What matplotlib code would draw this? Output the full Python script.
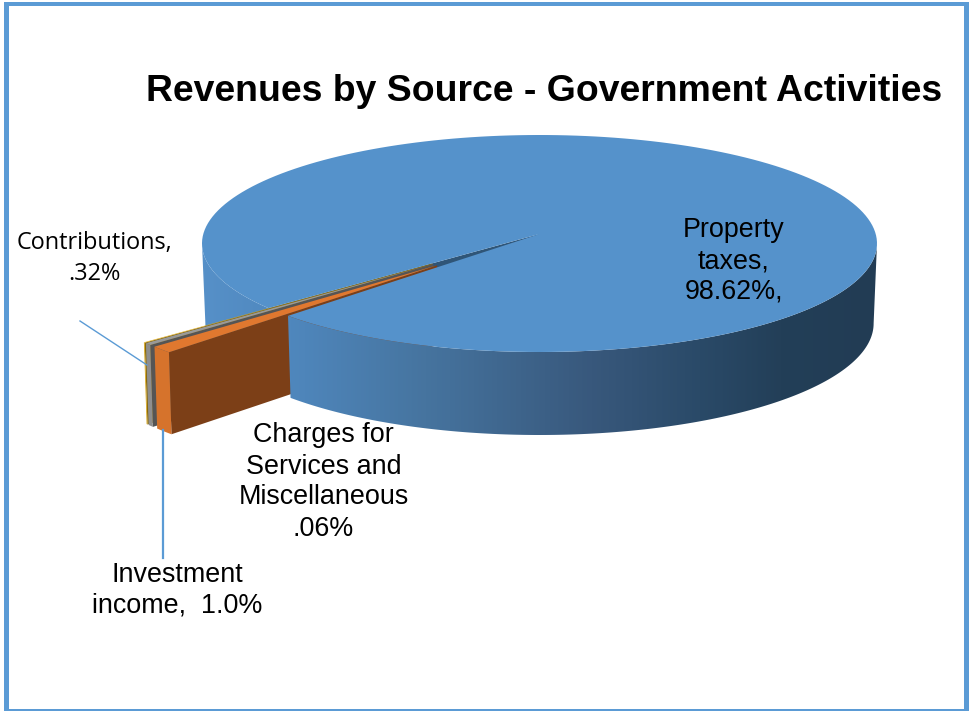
import numpy as np
import matplotlib
matplotlib.use("Agg")
import matplotlib.pyplot as plt
from matplotlib.colors import LinearSegmentedColormap
from matplotlib.patches import Polygon, Rectangle

sources = ["Property taxes", "Investment income", "Contributions", "Charges for Services"]
shares = [98.62, 1.0, 0.32, 0.06]
top_colors = ["#5592cb", "#e0782f", "#999999", "#e3ab12"]
wall_colors = [None, "#d6732c", "#8e8e8e", "#d49f10"]
cut_colors = ["#2f5577", "#7c3f17", "#555555", "#8a6a0a"]

START_ANGLE = 139.5  # pie is drawn clockwise from here
EXPLODE = 0.46
TIP_SHIFT = 0.86  # the tip of an exploded slice moves a bit less than its rim
TILT = -0.0876  # moves the pie centre up, like a perspective view
WIDEST = 5.0  # angle where the pie looks widest on screen


def project(theta, radius=1.0, drop=False):
    """Pie coordinates to pixels through a perspective map"""
    theta = np.radians(theta)
    u = radius * np.cos(theta)
    v = radius * np.sin(theta)
    w = 1 + TILT * v
    u2 = u * np.sqrt(1 - TILT ** 2) / w
    v2 = (v + TILT) / w
    if drop:
        x = 539.5 + 337.5 * 0.99 * u2
        y = 243.5 + 108.5 * v2 + 80 + 3 * v2
    else:
        x = 539.5 + 337.5 * u2
        y = 243.5 + 108.5 * v2
    return np.column_stack([x, y])


def slice_faces(a0, a1):
    arc = np.linspace(a0, a1, 200)
    rim = project(arc)
    rim_low = project(arc, drop=True)
    top = np.vstack([project(a0, 0.0), rim])
    wall = np.vstack([rim, rim_low[::-1]])
    return top, wall, rim, rim_low


spans = np.array(shares) / sum(shares) * 360
ends = START_ANGLE + np.cumsum(spans)
starts = ends - spans

fig = plt.figure(figsize=(9.69, 7.11), dpi=100)
ax = fig.add_axes([0, 0, 1, 1])
ax.set_xlim(0, 969)
ax.set_ylim(711, 0)
ax.axis("off")

wall_cmap = LinearSegmentedColormap.from_list("wall", [
    (0.0, "#5690c8"), (0.13, "#4f87bd"), (0.33, "#46749f"),
    (0.58, "#38587c"), (0.74, "#2a4a68"), (0.86, "#233f58"), (1.0, "#223c54")])
ramp = np.linspace(0, 1, 400).reshape(1, -1)


def gradient_wall(points, zorder):
    patch = Polygon(points, closed=True, fc="none", ec="none", zorder=zorder)
    ax.add_patch(patch)
    img = ax.imshow(ramp, cmap=wall_cmap, extent=(202, 877, 440, 130),
                    aspect="auto", zorder=zorder)
    img.set_clip_path(patch)


# Main slice, the part of the wall behind the small slices
_, back_wall, _, _ = slice_faces(starts[0], 180 - WIDEST)
gradient_wall(back_wall, 1)
ax.add_patch(Polygon(np.vstack([project(starts[0], 0.0), project(starts[0]),
                                project(starts[0], drop=True),
                                project(starts[0], 0.0, drop=True)]),
                     fc=cut_colors[0], ec="none", zorder=2))

# Exploded slices, the farthest one first
for i in [3, 2, 1]:
    mid = (starts[i] + ends[i]) / 2
    offset = EXPLODE * (project(mid) - project(mid, 0.0))
    top, wall, rim, rim_low = slice_faces(starts[i], ends[i])
    tip = project(starts[i], 0.0)
    tip_low = project(starts[i], 0.0, drop=True)
    top = top + offset
    top[0] = tip + offset * TIP_SHIFT
    cut = np.vstack([tip + offset * TIP_SHIFT, rim[0] + offset,
                     rim_low[0] + offset, tip_low + offset * TIP_SHIFT])
    z = 3 + (3 - i) * 0.1
    ax.add_patch(Polygon(cut, fc=cut_colors[i], ec="none", zorder=z))
    ax.add_patch(Polygon(wall + offset, fc=wall_colors[i], ec="none", zorder=z))
    ax.add_patch(Polygon(top, fc=top_colors[i], ec="none", zorder=z))

# Main slice, front wall and top
_, front_wall, _, _ = slice_faces(WIDEST, ends[0] - 360)
gradient_wall(front_wall, 4)
top, _, _, _ = slice_faces(starts[0], ends[0])
ax.add_patch(Polygon(top, fc=top_colors[0], ec="none", zorder=5))

# Leader lines
ax.plot([80, 147], [321, 365], color="#5b9bd5", lw=1, zorder=6)
ax.plot([163, 163], [430, 558], color="#5b9bd5", lw=1.6, zorder=6)

# Frame
frame = "#5b9bd5"
for box in [(4, 2, 965, 4), (4, 2, 5, 709), (964, 2, 5, 709), (4, 709, 965, 2)]:
    ax.add_patch(Rectangle(box[:2], box[2], box[3], fc=frame, ec="none", zorder=7))

sans = "Liberation Sans"
ax.text(544.5, 91.5, "Revenues by Source - Government Activities", family=sans,
        fontsize=26.95, fontweight="bold", ha="center", va="center", zorder=8)
ax.text(734, 261, "Property\ntaxes,\n98.62%,", family=sans, fontsize=19.4,
        ha="center", va="center", linespacing=1.25, zorder=8)
ax.text(323.5, 482, "Charges for\nServices and\nMiscellaneous\n.06%", family=sans,
        fontsize=19.4, ha="center", va="center", linespacing=1.25, zorder=8)
ax.text(177, 590, "Investment\nincome,  1.0%", family=sans, fontsize=19.4,
        ha="center", va="center", linespacing=1.2, zorder=8)
ax.text(94.5, 258.5, "Contributions,\n.32%", family="Open Sans", fontsize=16.9,
        ha="center", va="center", linespacing=1.36, zorder=8)

fig.savefig("out.png", dpi=100)
